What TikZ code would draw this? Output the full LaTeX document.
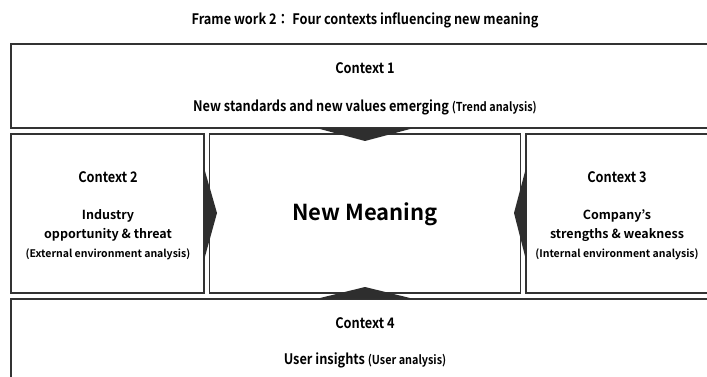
\documentclass[tikz,border=0pt]{standalone}
\usepackage{fontspec}
\setmainfont{Noto Sans CJK JP}[BoldFont=Noto Sans CJK JP Bold]
\newfontfamily\narrowfont{Noto Sans CJK JP Bold}[FakeStretch=0.88]
\usetikzlibrary{positioning}

\definecolor{edgegray}{HTML}{333333}
\definecolor{arrowgray}{HTML}{2E2E2E}

\tikzset{
    ctxbox/.style={draw=edgegray, line width=1.5pt, fill=white, inner sep=0pt},
    ctxhead/.style={font=\narrowfont\fontsize{14.5}{16}\selectfont},
    ctxline/.style={font=\bfseries\fontsize{12.5}{14}\selectfont},
    ctxnote/.style={font=\bfseries\fontsize{10.5}{12}\selectfont},
    pointer/.style={fill=arrowgray}
}

\newcommand{\smallnote}[1]{{\fontsize{12.3}{14}\selectfont #1}}

\begin{document}
\begin{tikzpicture}[x=1pt, y=-1pt]
    \useasboundingbox (0,0) rectangle (707,377);
    \clip (0,0) rectangle (707,377);

        % Title
        \node[ctxhead] (title) at (365,20) {Frame work 2： Four contexts influencing new meaning};

        % Boxes
        \draw[ctxbox] (11,44) rectangle (720,128);
        \draw[ctxbox] (11,134) rectangle (204,293);
        \draw[ctxbox] (209.5,134) rectangle (520.5,293);
        \draw[ctxbox] (526,134) rectangle (720,293);
        \draw[ctxbox] (11,299) rectangle (720,390);

        % Context 1
        \node[ctxhead] (head1) at (365,68) {Context 1};
        \node[ctxhead] (text1) at (365,107) {New standards and new values emerging \smallnote{(Trend analysis)}};

        % Context 2
        \node[ctxhead] (head2) at (108,177) {Context 2};
        \node[ctxline] (text2a) at (108,216) {Industry};
        \node[ctxline] (text2b) at (108,235) {opportunity \& threat};
        \node[ctxnote] (note2) at (108,254) {(External environment analysis)};

        % Center
        \node[font=\bfseries\fontsize{22}{26}\selectfont] (meaning) at (365,214) {New Meaning};

        % Context 3
        \node[ctxhead] (head3) at (617,177) {Context 3};
        \node[ctxline] (text3a) at (617,216) {Company's};
        \node[ctxline] (text3b) at (617,235) {strengths \& weakness};
        \node[ctxnote] (note3) at (617,254) {(Internal environment analysis)};

        % Context 4
        \node[ctxhead] (head4) at (365,323) {Context 4};
        \node[ctxhead] (text4) at (365,360) {User insights \smallnote{(User analysis)}};

        % Pointers into the center
        \fill[pointer] (318,128.5) -- (412,128.5) -- (365,141) -- cycle;
        \fill[pointer] (318,298.5) -- (412,298.5) -- (365,287) -- cycle;
        \fill[pointer] (203.5,166) -- (203.5,262) -- (217,213) -- cycle;
        \fill[pointer] (526.5,166) -- (526.5,262) -- (514,213) -- cycle;

    \end{tikzpicture}
\end{document}
